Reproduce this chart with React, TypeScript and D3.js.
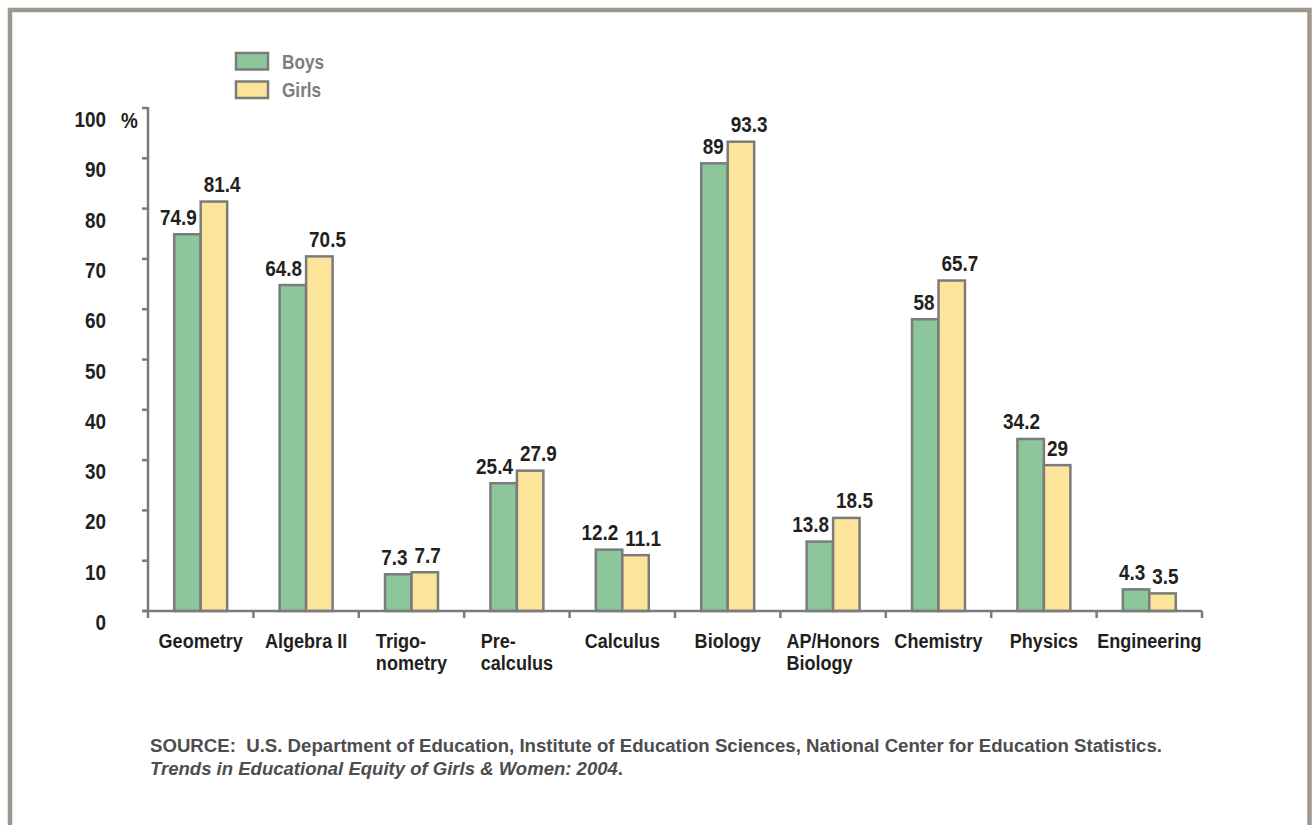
import React from "react";
import * as d3 from "d3";

const categories: string[][] = [
  ["Geometry"],
  ["Algebra II"],
  ["Trigo-", "nometry"],
  ["Pre-", "calculus"],
  ["Calculus"],
  ["Biology"],
  ["AP/Honors", "Biology"],
  ["Chemistry"],
  ["Physics"],
  ["Engineering"],
];
const boys = [74.9, 64.8, 7.3, 25.4, 12.2, 89, 13.8, 58, 34.2, 4.3];
const girls = [81.4, 70.5, 7.7, 27.9, 11.1, 93.3, 18.5, 65.7, 29, 3.5];
const yTicks = [0, 10, 20, 30, 40, 50, 60, 70, 80, 90, 100];
const seriesNames = ["Boys", "Girls"];
const sourceLine1 =
  "SOURCE:\u00a0\u00a0U.S. Department of Education, Institute of Education Sciences, National Center for Education Statistics.";
const sourceLine2 = "Trends in Educational Equity of Girls & Women: 2004";

const FONT = "'Liberation Sans', Arial, Helvetica, sans-serif";
const COND = 0.86;
const GREEN = "#8cc79b";
const YELLOW = "#fce59b";
const STROKE = "#7b7b7b";
const INK = "#231f20";

let canvasCtx: CanvasRenderingContext2D | null = null;
function measure(text: string, size: number): number {
  if (!canvasCtx) {
    const c = document.createElement("canvas");
    canvasCtx = c.getContext("2d");
  }
  if (!canvasCtx) return text.length * size * 0.55;
  canvasCtx.font = `bold ${size}px 'Liberation Sans', Arial, sans-serif`;
  return canvasCtx.measureText(text).width;
}

function CText(props: {
  x: number;
  y: number;
  size: number;
  anchor?: "start" | "middle" | "end";
  fill?: string;
  children: string;
}) {
  const { x, y, size, anchor = "start", fill = INK, children } = props;
  return (
    <text
      transform={`translate(${x},${y}) scale(${COND},1)`}
      textAnchor={anchor}
      fontFamily={FONT}
      fontWeight="bold"
      fontSize={size}
      fill={fill}
    >
      {children}
    </text>
  );
}

export default function App() {
  const W = 1312;
  const H = 825;
  const x0 = 148;
  const x1 = 1202;
  const yBase = 611;

  const x = d3
    .scaleBand<number>()
    .domain(d3.range(categories.length))
    .range([x0, x1])
    .padding(0);
  const inner = d3
    .scaleBand<string>()
    .domain(seriesNames)
    .range([0, x.bandwidth()])
    .paddingInner(0)
    .paddingOuter(0.99);
  const y = d3.scaleLinear().domain([0, 100]).range([yBase, 108]);

  const series = [
    { name: "Boys", values: boys, color: GREEN },
    { name: "Girls", values: girls, color: YELLOW },
  ];

  const boundaries = d3.range(categories.length + 1).map((i) =>
    i < categories.length ? (x(i) as number) : x1
  );

  return (
    <svg
      width={W}
      height={H}
      viewBox={`0 0 ${W} ${H}`}
      style={{ position: "absolute", left: 0, top: 0, display: "block" }}
    >
      <rect x={0} y={0} width={W} height={H} fill="#ffffff" />
      {/* frame */}
      <rect
        x={10}
        y={10}
        width={1299.5}
        height={840}
        fill="none"
        stroke="#9e978b"
        strokeWidth={4.5}
      />

      {/* legend */}
      {series.map((s, i) => (
        <g key={s.name}>
          <rect
            x={236}
            y={53 + i * 28.5}
            width={32}
            height={16.5}
            fill={s.color}
            stroke={STROKE}
            strokeWidth={2.5}
          />
          <CText x={282} y={68.5 + i * 28.5} size={20} fill="#7d7d80">
            {s.name}
          </CText>
        </g>
      ))}

      {/* y axis */}
      <line x1={x0} x2={x0} y1={y(100) - 1} y2={yBase} stroke={STROKE} strokeWidth={2.5} />
      {yTicks.map((t) => (
        <g key={t}>
          <line x1={142} x2={x0} y1={y(t)} y2={y(t)} stroke={STROKE} strokeWidth={2.5} />
          <CText x={106} y={y(t) + 19} size={22} anchor="end">
            {String(t)}
          </CText>
        </g>
      ))}
      <CText x={121} y={127.5} size={22}>
        %
      </CText>

      {/* bars */}
      {series.map((s) =>
        s.values.map((v, i) => {
          const bx = (x(i) as number) + (inner(s.name) as number);
          return (
            <rect
              key={s.name + i}
              x={bx}
              y={y(v)}
              width={inner.bandwidth()}
              height={yBase - y(v)}
              fill={s.color}
              stroke={STROKE}
              strokeWidth={2.5}
            />
          );
        })
      )}

      {/* x axis */}
      <line x1={142} x2={x1} y1={yBase} y2={yBase} stroke={STROKE} strokeWidth={2.5} />
      {boundaries.map((bx, i) => (
        <line key={i} x1={bx} x2={bx} y1={yBase} y2={yBase + 7} stroke={STROKE} strokeWidth={2.5} />
      ))}

      {/* value labels */}
      {series.map((s, si) =>
        s.values.map((v, i) => {
          const bx = (x(i) as number) + (inner(s.name) as number);
          const bw = inner.bandwidth();
          return si === 0 ? (
            <CText key={"l" + s.name + i} x={bx + bw - 4} y={y(v) - 9.5} size={22} anchor="end">
              {String(v)}
            </CText>
          ) : (
            <CText key={"l" + s.name + i} x={bx + 3} y={y(v) - 9.5} size={22} anchor="start">
              {String(v)}
            </CText>
          );
        })
      )}

      {/* category labels */}
      {categories.map((lines, i) => {
        const cx = (x(i) as number) + x.bandwidth() / 2;
        if (lines.length === 1) {
          return (
            <CText key={"c" + i} x={cx} y={648} size={21} anchor="middle">
              {lines[0]}
            </CText>
          );
        }
        const maxW = d3.max(lines, (l) => measure(l, 21) * COND) as number;
        const left = cx - maxW / 2;
        return (
          <g key={"c" + i}>
            {lines.map((l, li) => (
              <CText key={li} x={left} y={648 + li * 22} size={21} anchor="start">
                {l}
              </CText>
            ))}
          </g>
        );
      })}

      {/* source */}
      <text
        x={150}
        y={752}
        fontFamily={FONT}
        fontWeight="bold"
        fontSize={18}
        fill="#4d4d4f"
        textLength={1012}
        lengthAdjust="spacingAndGlyphs"
      >
        {sourceLine1}
      </text>
      <text
        x={150}
        y={775}
        fontFamily={FONT}
        fontWeight="bold"
        fontSize={18}
        fill="#4d4d4f"
        textLength={473}
        lengthAdjust="spacingAndGlyphs"
      >
        <tspan fontStyle="italic">{sourceLine2}</tspan>
        <tspan>.</tspan>
      </text>
    </svg>
  );
}
